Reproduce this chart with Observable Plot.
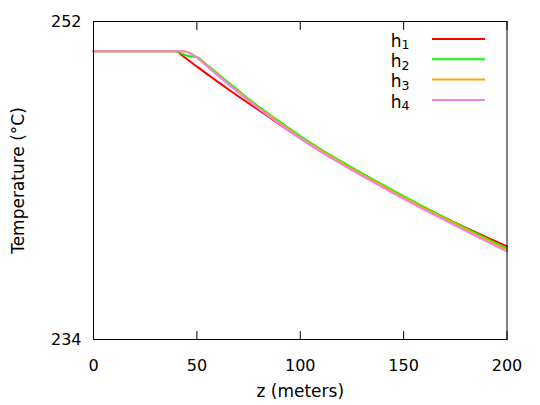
<!DOCTYPE html>
<html><head><meta charset="utf-8">
<script src="https://cdn.jsdelivr.net/npm/d3@7"></script>
<script src="https://cdn.jsdelivr.net/npm/@observablehq/plot@0.6"></script>
<style>body{margin:0;background:#fff} svg{display:block}</style>
</head><body><div id="chart"></div>
<script>
const z  = [0, 40, 43, 45, 47, 50, 55, 60, 65, 70, 75, 80, 85, 90, 100, 110, 120, 130, 140, 150, 160, 170, 180, 190, 200];
const h1 = [250.32, 250.32, 250.06, 249.89, 249.71, 249.45, 249.02, 248.60, 248.18, 247.77, 247.37, 246.98, 246.58, 246.18, 245.40, 244.66, 243.98, 243.32, 242.68, 242.06, 241.46, 240.88, 240.33, 239.79, 239.27];
const h2 = [250.32, 250.32, 250.16, 250.08, 250.02, 249.98, 249.54, 249.06, 248.57, 248.10, 247.63, 247.18, 246.75, 246.33, 245.52, 244.77, 244.07, 243.40, 242.75, 242.11, 241.49, 240.89, 240.30, 239.72, 239.14];
const h3 = [250.32, 250.32, 250.32, 250.29, 250.19, 249.98, 249.49, 249.00, 248.51, 248.04, 247.57, 247.12, 246.69, 246.26, 245.45, 244.70, 244.00, 243.33, 242.68, 242.04, 241.42, 240.82, 240.23, 239.64, 239.06];
const h4 = [250.32, 250.32, 250.32, 250.28, 250.17, 249.95, 249.45, 248.95, 248.46, 247.98, 247.51, 247.06, 246.62, 246.19, 245.38, 244.62, 243.92, 243.25, 242.60, 241.96, 241.34, 240.74, 240.15, 239.56, 238.98];
const seriesNames = ["h1", "h2", "h3", "h4"];
const seriesSubs = ["1", "2", "3", "4"];
const colors = ["#ff0000", "#00ff00", "#ffa500", "#ee82ee"];
const xTicks = [0, 50, 100, 150, 200];
const yTicks = [234, 252];
const xLabel = "z (meters)";
const yLabel = "Temperature (°C)";

const rows = [h1, h2, h3, h4].flatMap((arr, i) => arr.map((v, j) => ({series: seriesNames[i], z: z[j], T: v})));

const tickShape = {draw(ctx, l) { ctx.moveTo(0, 0); ctx.lineTo(0, -l); }};

const plot = Plot.plot({
  width: 540, height: 405,
  marginLeft: 93, marginRight: 33.5, marginTop: 21, marginBottom: 66,
  style: {fontFamily: "DejaVu Sans", fontSize: "16px", color: "#000", background: "#fff"},
  x: {domain: [0, 200]},
  y: {domain: [234, 252]},
  color: {domain: seriesNames, range: colors},
  marks: [
    Plot.axisX(xTicks, {tickSize: 0, tickPadding: 20, label: null, fontSize: 16}),
    Plot.axisY(yTicks, {tickSize: 0, tickPadding: 12, label: null, fontSize: 16}),
    Plot.vector(xTicks, {x: d => d, y: 234, length: 8, rotate: 0, anchor: "start", shape: tickShape, stroke: "#000", strokeWidth: 1}),
    Plot.vector(xTicks, {x: d => d, y: 252, length: 8, rotate: 180, anchor: "start", shape: tickShape, stroke: "#000", strokeWidth: 1}),
    Plot.line(rows, {x: "z", y: "T", z: "series", stroke: "series", strokeWidth: 2, curve: "monotone-x"}),
    Plot.frame({stroke: "#000", strokeWidth: 1}),
    Plot.text([xLabel], {frameAnchor: "bottom", dy: 52, lineAnchor: "middle", textAnchor: "middle", text: d => d, fontSize: 17, fill: "#000"}),
    Plot.text([yLabel], {frameAnchor: "left", dx: -75, rotate: -90, lineAnchor: "middle", textAnchor: "middle", text: d => d, fontSize: 17, fill: "#000"})
  ]
});

const svg = d3.select(plot);
const leg = svg.append("g").attr("font-family", "DejaVu Sans").attr("font-size", 17);
seriesNames.forEach((n, i) => {
  const y = 39 + i * 20.3;
  const t = leg.append("text").attr("x", 400).attr("y", y + 7.7).attr("fill", "#000");
  t.append("tspan").text("h");
  t.append("tspan").attr("font-size", 12.5).attr("dy", 2.6).text(seriesSubs[i]);
  leg.append("line").attr("x1", 432).attr("x2", 485).attr("y1", y).attr("y2", y)
    .attr("stroke", plot.scale("color").apply(n)).attr("stroke-width", 2);
});

document.getElementById("chart").appendChild(plot);
</script>
</body></html>
